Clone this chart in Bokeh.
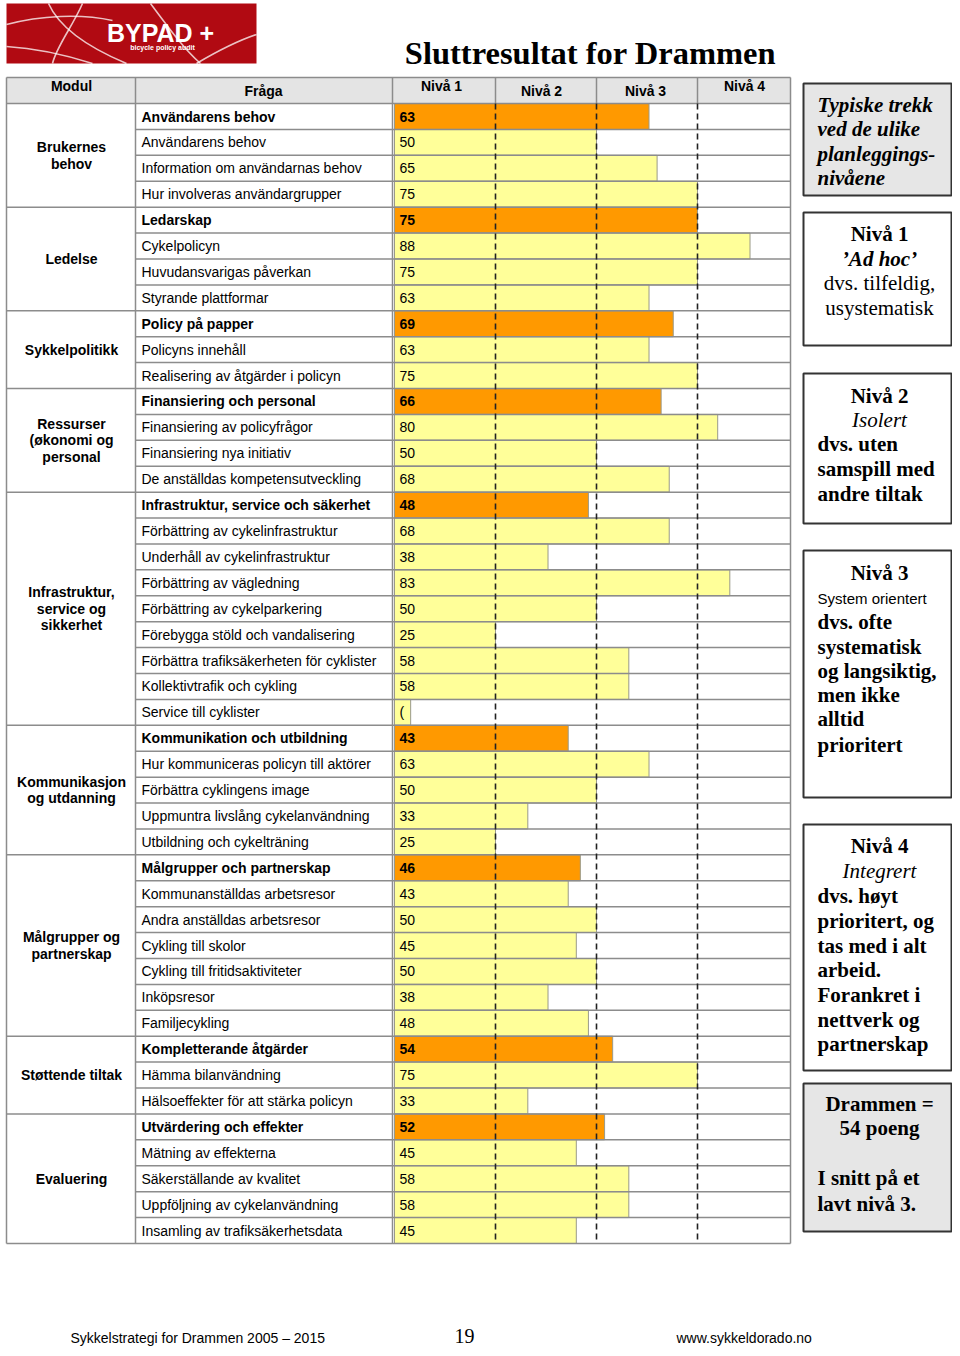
from bokeh.plotting import figure
from bokeh.models import Range1d
from bokeh.core.properties import value
from bokeh.embed import file_html
from bokeh.resources import INLINE

# ---------------- data ----------------
modules = ["Brukernes\nbehov", "Ledelse", "Sykkelpolitikk",
           "Ressurser\n(økonomi og\npersonal",
           "Infrastruktur,\nservice og\nsikkerhet",
           "Kommunikasjon\nog utdanning", "Målgrupper og\npartnerskap",
           "Støttende tiltak", "Evaluering"]
module_sizes = [4, 4, 3, 4, 9, 5, 7, 3, 5]

questions = [
    "Användarens behov", "Användarens behov", "Information om användarnas behov",
    "Hur involveras användargrupper",
    "Ledarskap", "Cykelpolicyn", "Huvudansvarigas påverkan", "Styrande plattformar",
    "Policy på papper", "Policyns innehåll", "Realisering av åtgärder i policyn",
    "Finansiering och personal", "Finansiering av policyfrågor",
    "Finansiering nya initiativ", "De anställdas kompetensutveckling",
    "Infrastruktur, service och säkerhet", "Förbättring av cykelinfrastruktur",
    "Underhåll av cykelinfrastruktur", "Förbättring av vägledning",
    "Förbättring av cykelparkering", "Förebygga stöld och vandalisering",
    "Förbättra trafiksäkerheten för cyklister", "Kollektivtrafik och cykling",
    "Service till cyklister",
    "Kommunikation och utbildning", "Hur kommuniceras policyn till aktörer",
    "Förbättra cyklingens image", "Uppmuntra livslång cykelanvändning",
    "Utbildning och cykelträning",
    "Målgrupper och partnerskap", "Kommunanställdas arbetsresor",
    "Andra anställdas arbetsresor", "Cykling till skolor",
    "Cykling till fritidsaktiviteter", "Inköpsresor", "Familjecykling",
    "Kompletterande åtgärder", "Hämma bilanvändning",
    "Hälsoeffekter för att stärka policyn",
    "Utvärdering och effekter", "Mätning av effekterna",
    "Säkerställande av kvalitet", "Uppföljning av cykelanvändning",
    "Insamling av trafiksäkerhetsdata",
]
scores = [63, 50, 65, 75,
          75, 88, 75, 63,
          69, 63, 75,
          66, 80, 50, 68,
          48, 68, 38, 83, 50, 25, 58, 58, 4,
          43, 63, 50, 33, 25,
          46, 43, 50, 45, 50, 38, 48,
          54, 75, 33,
          52, 45, 58, 58, 45]
score_labels = [str(s) for s in scores]
score_labels[23] = "("

level_bounds = [25, 50, 75]
header_labels = ["Modul", "Fråga", "Nivå 1", "Nivå 2", "Nivå 3", "Nivå 4"]
title = "Sluttresultat for Drammen"

boxes = [
    dict(top=83, bottom=195, fill="#E6E6E6", lines=[
        ("Typiske trekk", "bold italic", "left", 104),
        ("ved de ulike", "bold italic", "left", 128),
        ("planleggings-", "bold italic", "left", 153),
        ("nivåene", "bold italic", "left", 177)]),
    dict(top=212, bottom=345, fill="white", lines=[
        ("Nivå 1", "bold", "center", 233),
        ("’Ad hoc’", "bold italic", "center", 258),
        ("dvs. tilfeldig,", "normal", "center", 282),
        ("usystematisk", "normal", "center", 307)]),
    dict(top=373, bottom=523, fill="white", lines=[
        ("Nivå 2", "bold", "center", 395),
        ("Isolert", "italic", "center", 419),
        ("dvs. uten", "bold", "left", 443),
        ("samspill med", "bold", "left", 468),
        ("andre tiltak", "bold", "left", 493)]),
    dict(top=550, bottom=797, fill="white", lines=[
        ("Nivå 3", "bold", "center", 572),
        ("System orientert", "sans", "left", 598),
        ("dvs. ofte", "bold", "left", 621),
        ("systematisk", "bold", "left", 646),
        ("og langsiktig,", "bold", "left", 670),
        ("men ikke", "bold", "left", 694),
        ("alltid", "bold", "left", 718),
        ("prioritert", "bold", "left", 744)]),
    dict(top=824, bottom=1070, fill="white", lines=[
        ("Nivå 4", "bold", "center", 845),
        ("Integrert", "italic", "center", 870),
        ("dvs. høyt", "bold", "left", 895),
        ("prioritert, og", "bold", "left", 920),
        ("tas med i alt", "bold", "left", 945),
        ("arbeid.", "bold", "left", 969),
        ("Forankret i", "bold", "left", 994),
        ("nettverk og", "bold", "left", 1019),
        ("partnerskap", "bold", "left", 1043)]),
    dict(top=1083, bottom=1231, fill="#E6E6E6", lines=[
        ("Drammen =", "bold", "center", 1103),
        ("54 poeng", "bold", "center", 1127),
        ("I snitt  på et", "bold", "left", 1177),
        ("lavt nivå 3.", "bold", "left", 1203)]),
]

# ---------------- layout constants ----------------
SANS = "Liberation Sans"
SERIF = "Liberation Serif"
W, H = 952, 1348
X0, PX = 394.0, 4.04          # pixel of score 0, pixels per score unit
ROW0, RH = 116.0, 25.907      # pixel centre of first row, row height
TL, TR, C1, C2 = 6, 790, 135, 392
HDR_TOP, HDR_BOT = 77, 103
GRID = "#8c8c8c"

p = figure(width=W, height=H, x_range=Range1d(0, W), y_range=Range1d(H, 0),
           output_backend="svg", toolbar_location=None, min_border=0,
           x_axis_location=None, y_axis_location=None, outline_line_color=None)
p.grid.visible = False
p.background_fill_color = "white"
p.border_fill_color = "white"
p.extra_x_ranges = {"score": Range1d((0 - X0) / PX, (W - X0) / PX)}
p.extra_y_ranges = {"rows": Range1d((H - ROW0) / RH, (0 - ROW0) / RH)}


def txt(xs, ys, texts, size, style="normal", font=SANS, align="left",
        color="black", **kw):
    p.text(x=xs, y=ys, text=texts, text_font=value(font),
           text_font_size=f"{size}px", text_font_style=value(style),
           text_align=value(align), text_baseline=value("middle"),
           text_color=color, **kw)


n = len(questions)
starts = []
acc = 0
for s in module_sizes:
    starts.append(acc)
    acc += s
summary = [i in starts for i in range(n)]

# ---------------- logo ----------------
p.quad(left=6, right=256, top=3, bottom=63, fill_color="#B10A12", line_color=None)
curves = dict(x0=[6, 48, 82, 6, 196, 150], y0=[24, 3, 3, 46, 63, 3],
              x1=[112, 126, 52, 92, 256, 200], y1=[20, 63, 63, 63, 34, 63],
              cx0=[40, 60, 72, 40, 218, 170], cy0=[15, 30, 26, 48, 50, 30],
              cx1=[80, 95, 56, 70, 238, 185], cy1=[13, 50, 46, 56, 40, 50])
p.bezier(line_color="white", line_alpha=0.75, line_width=1.6, **curves)
txt([160], [32], ["BYPAD +"], 25, "bold", align="center", color="white")
txt([162], [47], ["bicycle policy audit"], 7, "bold", align="center", color="white")

# ---------------- title ----------------
txt([590], [52], [title], 32.5, "bold", font=SERIF, align="center")

# ---------------- table header ----------------
p.quad(left=TL, right=TR, top=HDR_TOP, bottom=HDR_BOT, fill_color="#E4E4E4",
       line_color=None)
hx = [71, 263, 441, 541, 645, 744]
hy = [85, 90, 85, 90, 90, 85]
txt(hx, hy, header_labels, 14, "bold", align="center")

# ---------------- bars ----------------
colors = ["#FF9900" if s else "#FFFF99" for s in summary]
rows = list(range(n))
p.hbar(y=rows, left=0, right=scores, height=1.0, fill_color=colors,
       line_color="#9a9a8a", line_width=1, x_range_name="score", y_range_name="rows")

# ---------------- grid lines ----------------
bounds = list(range(n + 1))
group_b = set(starts + [n])
p.segment(x0=[TL if b in group_b else C1 for b in bounds], x1=[TR] * len(bounds),
          y0=[b - 0.5 for b in bounds], y1=[b - 0.5 for b in bounds],
          line_color=GRID, line_width=1.5, y_range_name="rows")
p.segment(x0=[TL, C1, C2, TR], x1=[TL, C1, C2, TR], y0=[HDR_TOP] * 4,
          y1=[ROW0 + RH * (n - 0.5)] * 4, line_color=GRID, line_width=1.5)
p.segment(x0=[TL], x1=[TR], y0=[HDR_TOP], y1=[HDR_TOP], line_color=GRID, line_width=1.5)
p.segment(x0=level_bounds, x1=level_bounds, y0=[HDR_TOP] * 3, y1=[HDR_BOT] * 3,
          line_color=GRID, line_width=1.5, x_range_name="score")
p.segment(x0=level_bounds, x1=level_bounds, y0=[-0.5] * 3, y1=[n - 0.5] * 3,
          line_color="#222222", line_width=1.6, line_dash="6 4",
          x_range_name="score", y_range_name="rows")

# ---------------- question / value text ----------------
b_idx = [i for i in range(n) if summary[i]]
n_idx = [i for i in range(n) if not summary[i]]
txt([141] * len(b_idx), b_idx, [questions[i] for i in b_idx], 14, "bold", y_range_name="rows")
txt([141] * len(n_idx), n_idx, [questions[i] for i in n_idx], 14, "normal", y_range_name="rows")
txt([399] * len(b_idx), b_idx, [score_labels[i] for i in b_idx], 14, "bold", y_range_name="rows")
txt([399] * len(n_idx), n_idx, [score_labels[i] for i in n_idx], 14, "normal", y_range_name="rows")

# ---------------- module labels ----------------
LS = 16.6 / RH
mx, my, mt = [], [], []
for name, st, sz in zip(modules, starts, module_sizes):
    parts = name.split("\n")
    c = st + (sz - 1) / 2
    for k, part in enumerate(parts):
        mx.append(71)
        my.append(c + (k - (len(parts) - 1) / 2) * LS)
        mt.append(part)
txt(mx, my, mt, 14, "bold", align="center", y_range_name="rows")

# ---------------- right-hand boxes ----------------
BL, BR = 803, 951
for b in boxes:
    p.quad(left=BL, right=BR, top=b["top"], bottom=b["bottom"], fill_color=b["fill"],
           line_color="#333333", line_width=2)
    for t, style, align, y in b["lines"]:
        x = (BL + BR) / 2 + 2 if align == "center" else 817
        if style == "sans":
            txt([x], [y], [t], 15, "normal", font=SANS, align=align)
        else:
            txt([x], [y], [t], 21, style, font=SERIF, align=align)

# ---------------- footer ----------------
txt([70], [1337], ["Sykkelstrategi for Drammen 2005 – 2015"], 14)
txt([464], [1335], ["19"], 20, font=SERIF, align="center")
txt([676], [1337], ["www.sykkeldorado.no"], 14)

open("out.html", "w").write(file_html(p, INLINE))
